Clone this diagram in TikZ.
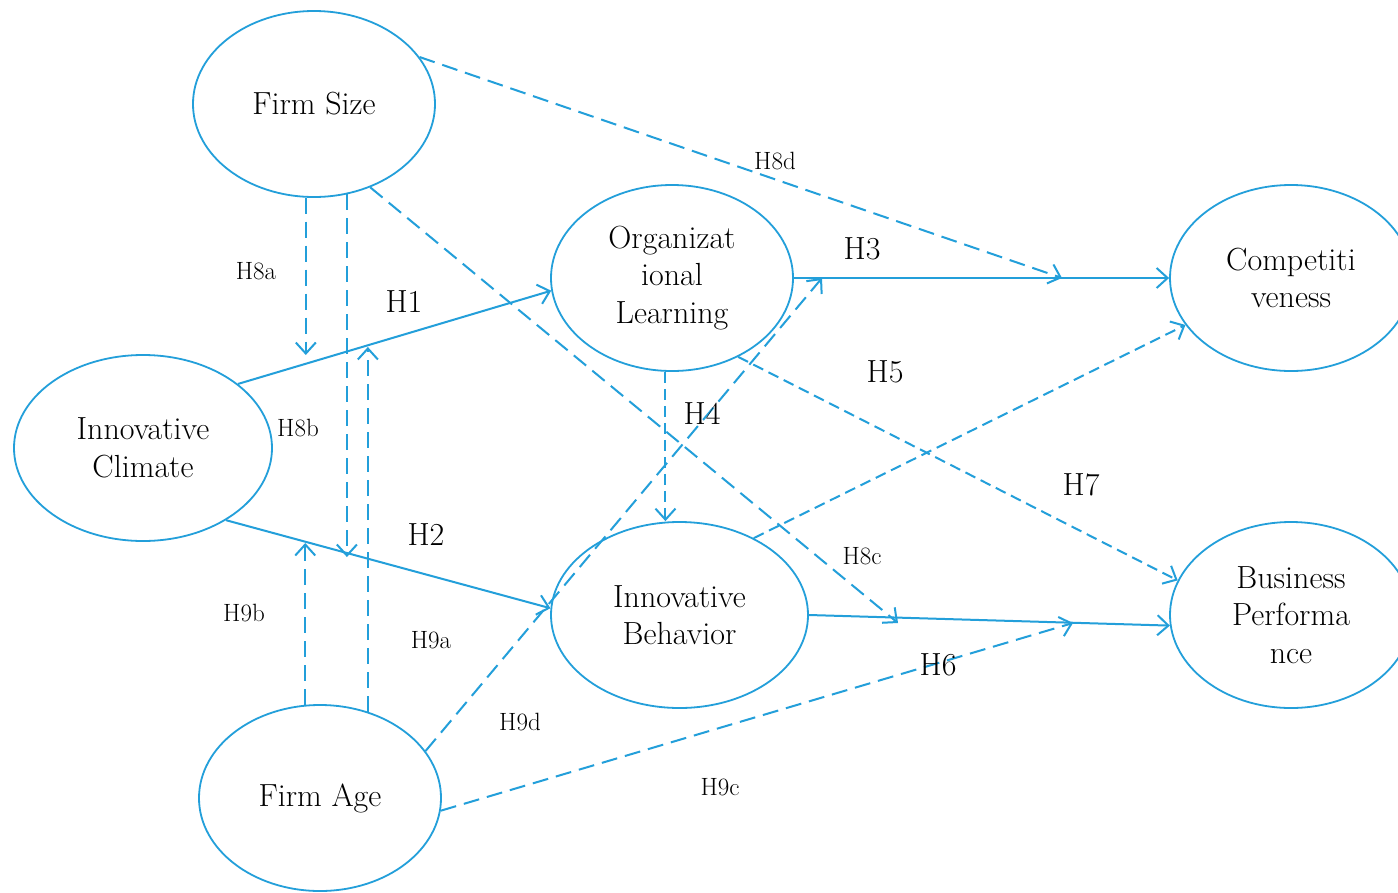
\documentclass[tikz,border=0pt]{standalone}
\usetikzlibrary{arrows.meta,shapes.geometric}
\definecolor{lblue}{RGB}{35,159,218}
\begin{document}
\begin{tikzpicture}[x=1pt,y=-1pt,
  every node/.style={inner sep=0pt},
  var/.style={ellipse, draw=lblue, line width=1.8pt, minimum width=242pt, minimum height=186pt, align=center, font=\fontsize{32}{37.5}\selectfont},
  bigl/.style={font=\fontsize{32}{36}\selectfont},
  smalll/.style={font=\fontsize{25}{28}\selectfont},
  conn/.style={draw=lblue, line width=2pt, -{Straight Barb[length=11pt,width=20pt,line width=2pt]}},
  ldash/.style={conn, dash pattern=on 16pt off 8pt},
  sdash/.style={conn, dash pattern=on 11pt off 6pt},
]
\useasboundingbox (0,0) rectangle (1398,892);
\clip (0,0) rectangle (1398,892);
\fill[white] (0,0) rectangle (1398,892);

\node[var] (fs) at (314,104) {Firm Size};
\node[var] (ol) at (672,278) {Organizat\\ional\\Learning};
\node[var] (comp) at (1291,278) {Competiti\\veness};
\node[var, minimum width=258pt] (ic) at (143,448) {Innovative\\Climate};
\node[var, minimum width=257pt] (ib) at (679.5,615) {Innovative\\Behavior};
\node[var] (bp) at (1291,615) {Business\\Performa\\nce};
\node[var] (fa) at (320,798) {Firm Age};

\coordinate (h8a) at (306,355);
\coordinate (h8b) at (347,557);
\coordinate (h8c) at (898,623);
\coordinate (h8d) at (1062,278);
\coordinate (h9a) at (367,347);
\coordinate (h9b) at (306,543);
\coordinate (h9c) at (1073,623);
\coordinate (h9d) at (822,278);

% solid paths
\draw[conn] (ic.34) -- (ol.186);
\draw[conn] (ic.-41) -- (ib.177);
\draw[conn] (ol.east) -- (comp.west);
\draw[conn] (ib.east) -- (bp.185);

% short dashed
\draw[sdash] (ol.266) -- (ol.266 |- ib.north);
\draw[sdash] (ol.-50) -- (bp.163);
\draw[sdash] (ib.46) -- (comp.204);

% long dashed (control variables)
\draw[ldash] (fs.265) -- (fs.265 |- h8a);
\draw[ldash] (fs.-70) -- (fs.-70 |- h8b);
\draw[ldash] (fs.-56) -- (h8c);
\draw[ldash] (fs.24) -- (h8d);
\draw[ldash] (fa.61) -- (fa.61 |- h9a);
\draw[ldash] (fa.99) -- (fa.99 |- h9b);
\draw[ldash] (fa.-6) -- (h9c);
\draw[ldash] (fa.24) -- (h9d);

% labels
\node[bigl] (lh1) at (404,302) {H1};
\node[bigl] (lh2) at (426,535) {H2};
\node[bigl] (lh3) at (862,249) {H3};
\node[bigl] (lh4) at (702,414) {H4};
\node[bigl] (lh5) at (885,372) {H5};
\node[bigl] (lh6) at (938,665) {H6};
\node[bigl] (lh7) at (1081,485) {H7};
\node[smalll] (lh8a) at (256,271) {H8a};
\node[smalll] (lh8b) at (298,428) {H8b};
\node[smalll] (lh8c) at (862,556) {H8c};
\node[smalll] (lh8d) at (775,161) {H8d};
\node[smalll] (lh9a) at (431,640) {H9a};
\node[smalll] (lh9b) at (244,613) {H9b};
\node[smalll] (lh9c) at (720,787) {H9c};
\node[smalll] (lh9d) at (520,722) {H9d};
\end{tikzpicture}
\end{document}
